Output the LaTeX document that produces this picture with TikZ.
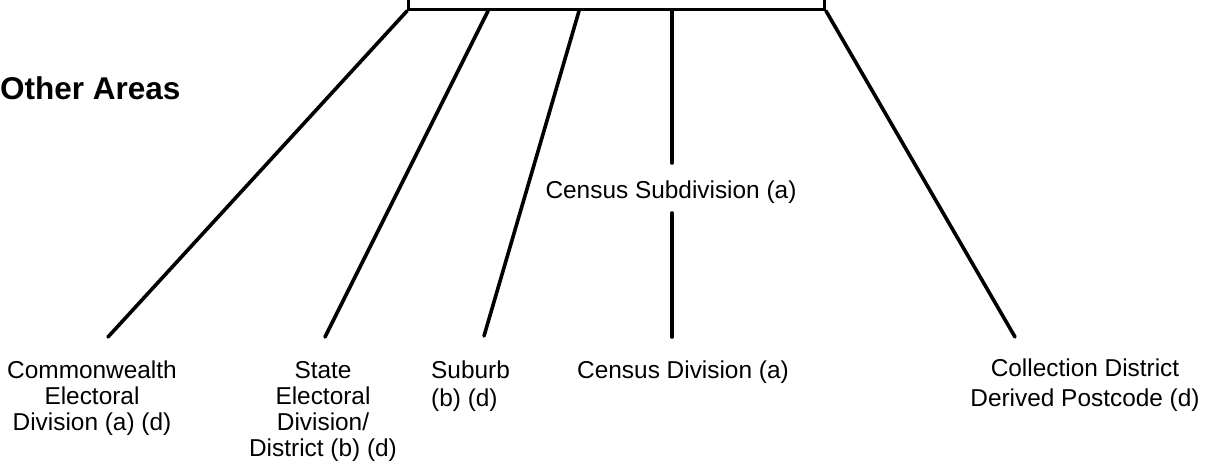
\documentclass[tikz,border=0pt]{standalone}
\usepackage{fontspec}
\setmainfont{Liberation Sans}
\begin{document}
\begin{tikzpicture}[x=1pt,y=-1pt,
  conn/.style={line width=3.6pt, line cap=round},
  boxstyle/.style={draw, line width=3pt, minimum width=416pt, minimum height=40pt, inner sep=0pt},
  lbl/.style={font=\fontsize{24.4}{26}\selectfont, align=center, inner sep=0pt},
  lbll/.style={font=\fontsize{24.4}{28}\selectfont, align=left, inner sep=0pt},
  lblw/.style={font=\fontsize{24.4}{29.5}\selectfont, align=center, inner sep=0pt},
  title/.style={font=\bfseries\fontsize{31.5}{36}\selectfont, inner sep=0pt}]
\useasboundingbox (0,0) rectangle (1206,473);
\fill[white] (0,0) rectangle (1206,473);
% top box (cut off by the top edge)
\node[boxstyle, anchor=south west] (top) at (407,11) {};
% start points on the box bottom
\coordinate (s1) at (top.south west);
\coordinate (s2) at (488,11);
\coordinate (s3) at (579,11);
\coordinate (s4) at (672,11);
\coordinate (s5) at (top.south east);
% free ends
\coordinate (e1) at (108,337);
\coordinate (e2) at (325,337);
\coordinate (e3) at (484,336);
\coordinate (e4a) at (672,163);
\coordinate (e4b) at (672,213);
\coordinate (e4) at (672,337);
\coordinate (e5) at (1015,337);
% labels
\node[title, anchor=base west] (other) at (0,100) {Other Areas};
\node[lbl, anchor=north] (cw) at (92,361) {Commonwealth\\Electoral\\Division (a) (d)};
\node[lbl, anchor=north] (se) at (323,361) {State\\Electoral\\Division/\\District (b) (d)};
\node[lbll, anchor=north west] (sub) at (431,361) {Suburb\\(b) (d)};
\node[lbl, anchor=north] (cd) at (683,361) {Census Division (a)};
\node[lbl, anchor=north] (csd) at (671,181) {Census Subdivision (a)};
\node[lblw, anchor=north] (col) at (1085,359) {Collection District\\Derived Postcode (d)};
% connectors
\draw[conn] (s1) -- (e1);
\draw[conn] (s2) -- (e2);
\draw[conn] (s3) -- (e3);
\draw[conn] (s4) -- (e4a);
\draw[conn] (e4b) -- (e4);
\draw[conn] (s5) -- (e5);
\end{tikzpicture}
\end{document}
